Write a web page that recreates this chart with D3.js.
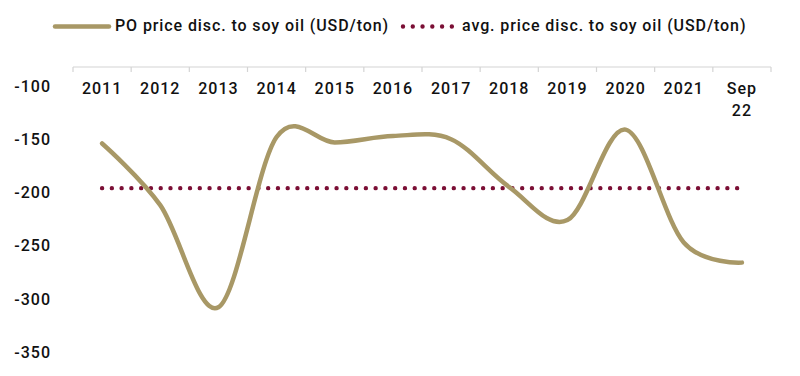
<!DOCTYPE html>
<html>
<head>
<meta charset="utf-8">
<script src="https://cdn.jsdelivr.net/npm/d3@7"></script>
<style>
  body { margin: 0; background: #fff; }
  text { font-family: Roboto, "Liberation Sans", sans-serif; fill: #111; font-weight: 500; }
</style>
</head>
<body>
<div class="chart"></div>
<script>
var w = 800;
var h = 376;

// categories and values
var years = ["2011", "2012", "2013", "2014", "2015", "2016", "2017", "2018", "2019", "2020", "2021", "Sep 22"];
var poDisc = [-154, -212, -308, -148, -153, -147, -150, -195, -226, -141, -247, -266];
var avgDisc = -196;
var yTicks = [-100, -150, -200, -250, -300, -350];

var lineColor = "#a89866";
var avgColor = "#7b0f35";

var svg = d3.select(".chart").append("svg")
    .attr("width", w)
    .attr("height", h);

var x = d3.scaleBand().domain(years).range([73, 771]);
var y = d3.scaleLinear().domain([-350, -100]).range([352, 86]);
var cx = function(d){ return x(d) + x.bandwidth() / 2; };

// category axis sits at the top
var xAxis = svg.append("g").attr("transform", "translate(0,67)");
xAxis.append("line") // axis line
    .attr("x1", 73).attr("x2", 771)
    .attr("stroke", "#d4d4d4").attr("stroke-width", 1.2);
xAxis.selectAll(".tick")
    .data(d3.range(years.length + 1))
    .enter().append("line")
    .attr("x1", i => 73 + i * x.step())
    .attr("x2", i => 73 + i * x.step())
    .attr("y1", 0).attr("y2", 5)
    .attr("stroke", "#d4d4d4").attr("stroke-width", 1.2);

var labels = svg.append("g").selectAll("text")
    .data(years)
    .enter().append("text")
    .attr("x", d => cx(d))
    .attr("y", 94)
    .attr("text-anchor", "middle")
    .attr("font-size", 16)
    .attr("letter-spacing", 1);
labels.each(function(d){ // split "Sep 22" over two lines
    var parts = d.split(" ");
    var t = d3.select(this);
    parts.forEach(function(p, i){
        t.append("tspan").attr("x", cx(d)).attr("dy", i ? 22 : 0).text(p);
    });
});

// value labels on the left
svg.append("g").selectAll("text")
    .data(yTicks)
    .enter().append("text")
    .attr("x", 51)
    .attr("y", d => y(d))
    .attr("dy", "0.36em")
    .attr("text-anchor", "end")
    .attr("font-size", 16)
    .attr("letter-spacing", 1)
    .text(d => d);

// average line, dotted
svg.append("line")
    .attr("x1", cx(years[0]))
    .attr("x2", cx(years[years.length - 1]) - 4)
    .attr("y1", y(avgDisc)).attr("y2", y(avgDisc))
    .attr("stroke", avgColor)
    .attr("stroke-width", 4.4)
    .attr("stroke-linecap", "round")
    .attr("stroke-dasharray", "0 9.77");

// smoothed price discount line
var line = d3.line()
    .x((d, i) => cx(years[i]))
    .y(d => y(d))
    .curve(d3.curveCardinal.tension(0));

svg.append("path")
    .datum(poDisc)
    .attr("d", line)
    .attr("fill", "none")
    .attr("stroke", lineColor)
    .attr("stroke-width", 4.5)
    .attr("stroke-linecap", "round");

// legend
var lg = svg.append("g");
lg.append("line")
    .attr("x1", 55).attr("x2", 109).attr("y1", 26.5).attr("y2", 26.5)
    .attr("stroke", lineColor).attr("stroke-width", 4.5).attr("stroke-linecap", "round");
lg.append("text").attr("x", 115).attr("y", 31).attr("font-size", 16)
    .attr("letter-spacing", 0.9)
    .text("PO price disc. to soy oil (USD/ton)");
lg.append("line")
    .attr("x1", 403).attr("x2", 455).attr("y1", 26.5).attr("y2", 26.5)
    .attr("stroke", avgColor).attr("stroke-width", 4.4)
    .attr("stroke-linecap", "round").attr("stroke-dasharray", "0 9.77");
lg.append("text").attr("x", 462).attr("y", 31).attr("font-size", 16)
    .attr("letter-spacing", 0.9)
    .text("avg. price disc. to soy oil (USD/ton)");
</script>
</body>
</html>
